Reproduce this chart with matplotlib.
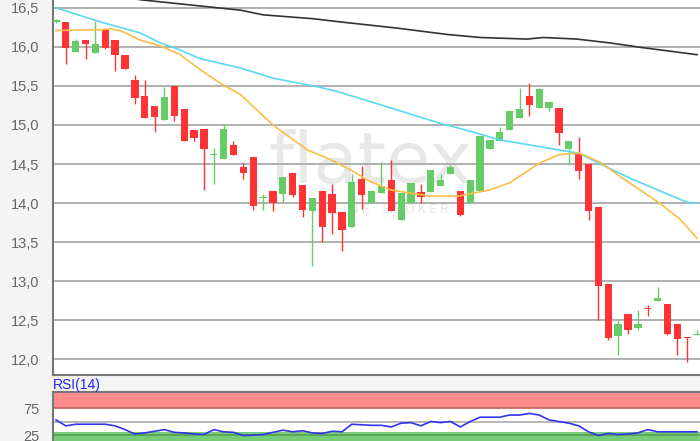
import numpy as np
import matplotlib.pyplot as plt
from matplotlib.ticker import FuncFormatter

# daily candles (66 sessions)
opens = [16.32, 16.32, 15.93, 16.09, 15.92, 16.21, 16.09, 15.89, 15.58, 15.37,
         15.24, 15.06, 15.50, 15.21, 14.94, 14.95, 14.61, 14.56, 14.74, 14.46,
         14.59, 14.06, 14.16, 14.12, 14.39, 14.23, 13.90, 14.15, 14.12, 13.89,
         13.70, 14.31, 14.00, 14.13, 14.29, 13.79, 14.00, 14.14, 14.14, 14.22,
         14.37, 14.15, 14.00, 14.15, 14.69, 14.79, 14.94, 15.09, 15.37, 15.22,
         15.22, 15.22, 14.69, 14.64, 14.50, 13.95, 12.96, 12.30, 12.58, 12.40,
         12.66, 12.75, 12.71, 12.45, 12.29, 12.31]
closes = [16.34, 15.98, 16.07, 16.04, 16.04, 15.98, 15.90, 15.72, 15.34, 15.09,
          15.10, 15.36, 15.11, 14.79, 14.84, 14.69, 14.63, 14.95, 14.61, 14.38,
          13.96, 14.08, 14.00, 14.33, 14.11, 13.91, 14.07, 13.69, 13.87, 13.65,
          14.27, 14.10, 14.16, 14.22, 13.90, 14.13, 14.26, 14.08, 14.42, 14.30,
          14.46, 13.85, 14.29, 14.86, 14.81, 14.91, 15.18, 15.20, 15.25, 15.46,
          15.29, 14.90, 14.79, 14.41, 13.90, 12.94, 12.28, 12.45, 12.37, 12.45,
          12.64, 12.79, 12.32, 12.26, 12.27, 12.33]
highs = [16.36, 16.32, 16.10, 16.09, 16.33, 16.21, 16.09, 15.89, 15.64, 15.57,
         15.24, 15.49, 15.50, 15.21, 14.94, 14.95, 14.70, 15.01, 14.80, 14.51,
         14.59, 14.12, 14.16, 14.33, 14.39, 14.23, 14.07, 14.15, 14.25, 13.89,
         14.37, 14.47, 14.17, 14.53, 14.55, 14.13, 14.26, 14.24, 14.42, 14.37,
         14.49, 14.15, 14.29, 14.86, 14.81, 14.97, 15.18, 15.48, 15.54, 15.47,
         15.29, 15.22, 14.79, 14.85, 14.50, 13.95, 12.96, 12.50, 12.58, 12.63,
         12.70, 12.93, 12.71, 12.45, 12.29, 12.37]
lows = [16.31, 15.78, 15.93, 15.85, 15.92, 15.97, 15.69, 15.72, 15.27, 15.09,
        14.91, 15.06, 15.05, 14.79, 14.79, 14.17, 14.25, 14.56, 14.61, 14.31,
        13.91, 13.91, 13.90, 14.02, 14.08, 13.82, 13.19, 13.50, 13.61, 13.39,
        13.70, 13.92, 14.00, 14.13, 13.90, 13.79, 14.00, 14.00, 14.14, 14.22,
        14.37, 13.84, 14.00, 14.15, 14.69, 14.79, 14.94, 15.09, 15.12, 15.22,
        15.18, 14.74, 14.49, 14.31, 13.79, 12.51, 12.25, 12.06, 12.33, 12.38,
        12.55, 12.75, 12.31, 12.05, 11.96, 12.31]

# moving averages, sampled at session index
ma_fast_idx = [0, 4.5, 5.5, 6.5, 8.5, 10.6, 12.6, 14.6, 16.6, 18.7, 22, 25.5, 27.8,
               29.8, 31.8, 33.9, 35.9, 37.9, 40.8, 44, 46, 49, 51, 53.1, 55.2,
               57.2, 59.2, 61.2, 63.3, 65]
ma_fast = [16.21, 16.22, 16.23, 16.21, 16.09, 16.01, 15.90, 15.71, 15.54, 15.39,
           15.00, 14.68, 14.56, 14.43, 14.28, 14.17, 14.13, 14.09, 14.09, 14.17,
           14.26, 14.51, 14.62, 14.64, 14.52, 14.34, 14.17, 14.00, 13.79, 13.55]
ma_mid_idx = [0, 4.5, 6.5, 8.5, 10.6, 12.6, 14.6, 18.7, 22, 26.5, 28.5, 33.9, 39,
              42, 45, 51, 53, 56, 58, 61, 64, 65]
ma_mid = [16.50, 16.32, 16.25, 16.18, 16.05, 15.96, 15.85, 15.73, 15.60, 15.49,
          15.43, 15.22, 15.02, 14.92, 14.81, 14.68, 14.64, 14.45, 14.33, 14.17,
          14.01, 14.00]
ma_slow_idx = [7, 8.8, 18.7, 21, 26.1, 28.8, 34.6, 39.6, 43, 47.8, 49.4, 52.8,
               56.2, 59.5, 65]
ma_slow = [16.63, 16.60, 16.47, 16.41, 16.36, 16.32, 16.24, 16.16, 16.12, 16.10,
           16.12, 16.10, 16.05, 15.99, 15.90]

rsi = [53, 42, 45, 45, 45, 45, 42, 35, 27, 29, 32, 35, 30, 29, 27, 26, 35, 31,
       30, 24, 25, 26, 30, 34, 31, 33, 29, 28, 32, 31, 45, 44, 43, 43, 40, 47,
       48, 42, 50, 48, 50, 40, 50, 58, 58, 58, 62, 62, 65, 62, 53, 50, 47, 42,
       31, 24, 28, 26, 27, 29, 35, 31, 31, 31, 31, 31]

price_ticks = [12.0, 12.5, 13.0, 13.5, 14.0, 14.5, 15.0, 15.5, 16.0, 16.5]
rsi_ticks = [25, 75]

UP = "#66cc66"
DOWN = "#ff3333"
LABEL = "#666666"

plt.rcParams["font.family"] = ["Liberation Sans", "DejaVu Sans"]

fig = plt.figure(figsize=(7, 4.41), dpi=100, facecolor="#f4f4f4")
ax = fig.add_axes([53 / 700, 66 / 441, 647 / 700, 375 / 441])
ax_rsi = fig.add_axes([53 / 700, 0, 647 / 700, 49 / 441])

x = np.arange(len(opens))
o = np.array(opens)
c = np.array(closes)
colors = [UP if cc >= oo else DOWN for oo, cc in zip(o, c)]
bottoms = np.minimum(o, c)
heights = np.maximum(np.abs(c - o), 0.015)

ax.vlines(x, lows, highs, colors=colors, linewidth=1.0, zorder=3)
ax.bar(x, heights, bottom=bottoms, width=0.74, color=colors, linewidth=0, zorder=4)

ax.plot(ma_slow_idx, ma_slow, color="#333333", lw=1.2, zorder=5)
ax.plot(ma_mid_idx, ma_mid, color="#5ad8f2", lw=1.2, zorder=5)
ax.plot(ma_fast_idx, ma_fast, color="#fbbd4a", lw=1.2, zorder=5)

# watermark
ax.text(0.49, 0.565, "flatex", transform=ax.transAxes, ha="center", va="center",
        fontsize=52, color="#e8e8e8", family="DejaVu Sans", zorder=0.5)
ax.text(0.505, 0.44, "O N L I N E    B R O K E R", transform=ax.transAxes,
        ha="center", va="center", fontsize=8.5, color="#e4e4e4", zorder=0.5)

ax.set_xlim(-0.3, 65.3)
ax.set_ylim(11.80, 16.60)
ax.set_yticks(price_ticks)
ax.yaxis.set_major_formatter(FuncFormatter(lambda v, p: f"{v:.1f}".replace(".", ",")))
ax.set_xticks([])
ax.grid(axis="y", color="#aaaaaa", lw=1.3, zorder=1)
ax.set_axisbelow(True)
ax.tick_params(axis="y", length=0, pad=10, labelsize=10.5, labelcolor=LABEL)
ax.set_facecolor("white")
for side in ["top", "right"]:
    ax.spines[side].set_visible(False)
for side in ["left", "bottom"]:
    ax.spines[side].set_color("#777777")
    ax.spines[side].set_linewidth(1.5)

# RSI panel
xr = np.arange(len(rsi))
ax_rsi.set_facecolor("white")
ax_rsi.axhspan(75, 120, color="#ff8a8a", lw=0, zorder=0)
ax_rsi.axhspan(0, 31, color="#77cc77", lw=0, zorder=0)
ax_rsi.axhline(75, color="#c06060", lw=1.2, zorder=1)
ax_rsi.axhline(50, color="#aaaaaa", lw=1.2, zorder=1)
ax_rsi.axhline(25, color="#55a055", lw=1.2, zorder=1)
ax_rsi.plot(xr, rsi, color="#3333ee", lw=1.2, zorder=3)
ax_rsi.set_xlim(-0.3, 65.3)
ax_rsi.set_ylim(14, 104.6)
ax_rsi.set_yticks(rsi_ticks)
ax_rsi.set_xticks([])
ax_rsi.tick_params(axis="y", length=0, pad=10, labelsize=10.5, labelcolor=LABEL)
for side in ["right", "bottom"]:
    ax_rsi.spines[side].set_visible(False)
for side in ["left", "top"]:
    ax_rsi.spines[side].set_color("#777777")
    ax_rsi.spines[side].set_linewidth(1.5)

fig.text(53 / 700, (441 - 385) / 441, "RSI(14)", color="#2222ee", fontsize=10,
         ha="left", va="center")

fig.savefig("out.png", dpi=100, facecolor=fig.get_facecolor())
